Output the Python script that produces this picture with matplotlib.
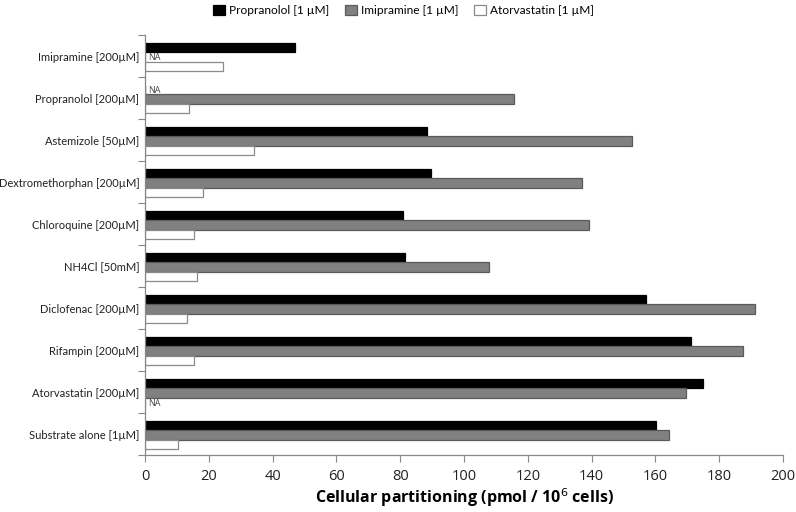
import numpy as np
import matplotlib
matplotlib.use("Agg")
import matplotlib.pyplot as plt
from matplotlib.patches import Patch

plt.rcParams['font.family'] = ['Open Sans', 'DejaVu Sans']

# categories listed top to bottom
categories = ["Imipramine [200\u00b5M]", "Propranolol [200\u00b5M]", "Astemizole [50\u00b5M]",
              "Dextromethorphan [200\u00b5M]", "Chloroquine [200\u00b5M]", "NH4Cl [50mM]",
              "Diclofenac [200\u00b5M]", "Rifampin [200\u00b5M]", "Atorvastatin [200\u00b5M]",
              "Substrate alone [1\u00b5M]"]
propranolol = [46.9, np.nan, 88.3, 89.7, 81.0, 81.4, 157.2, 171.0, 174.8, 160.3]
imipramine = [np.nan, 115.7, 152.7, 136.9, 139.1, 107.9, 191.3, 187.4, 169.7, 164.4]
atorvastatin = [24.3, 13.8, 34.1, 18.2, 15.3, 16.4, 13.1, 15.5, np.nan, 10.4]
series_names = ["Propranolol [1 \u00b5M]", "Imipramine [1 \u00b5M]", "Atorvastatin [1 \u00b5M]"]
xticks = list(range(0, 201, 20))

fig = plt.figure(figsize=(7.96, 5.12), dpi=100)
ax = fig.add_axes([0.1822, 0.1113, 0.8015, 0.8203])

y = np.arange(len(categories))
h = 0.227
styles = [dict(color="black", edgecolor="black"),
          dict(color="#808080", edgecolor="#5a5a5a"),
          dict(color="white", edgecolor="#8a8a8a")]
for k, (vals, st) in enumerate(zip([propranolol, imipramine, atorvastatin], styles)):
    pos = y + (k - 1) * h + 0.02
    v = np.array(vals, dtype=float)
    ax.barh(pos, np.nan_to_num(v), height=h, linewidth=0.9, **st)
    for p, val in zip(pos, v):
        if np.isnan(val):
            ax.text(1.0, p + 0.02, "NA", fontsize=6.5, color="#444444", va="center", ha="left")

ax.set_xlim(0, 200)
ax.set_ylim(len(categories) - 0.5, -0.5)
ax.set_xticks(xticks)
ax.set_xticklabels([str(t) for t in xticks], fontsize=10.5, color="#222222")
ax.set_yticks(y)
ax.set_yticklabels(categories, fontsize=8.0, color="#222222", family=['Lato', 'DejaVu Sans'])
ax.set_yticks(np.arange(len(categories) + 1) - 0.5, minor=True)
ax.tick_params(axis="y", which="major", length=0, pad=4)
ax.tick_params(axis="y", which="minor", length=5, color="#888888", width=0.8)
ax.tick_params(axis="x", length=5, color="#888888", width=0.8, pad=5)

for s in ["top", "right"]:
    ax.spines[s].set_visible(False)
for s in ["left", "bottom"]:
    ax.spines[s].set_color("#888888")
    ax.spines[s].set_linewidth(0.9)

ax.set_xlabel("Cellular partitioning (pmol / 10$^{6}$ cells)", fontsize=11.5,
              fontweight="bold", labelpad=2)

handles = [Patch(facecolor=st["color"], edgecolor=st["edgecolor"], linewidth=0.9) for st in styles]
fig.legend(handles, series_names, loc="upper center", bbox_to_anchor=(0.507, 1.012), ncol=3,
           frameon=False, prop={"family": ["Lato", "DejaVu Sans"], "size": 8.6},
           handlelength=1.0, handleheight=1.0, handletextpad=0.35, columnspacing=1.3)

fig.savefig("out.png", dpi=100)
